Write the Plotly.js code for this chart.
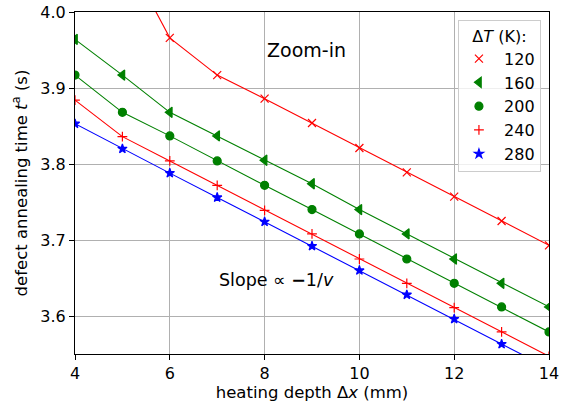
<!DOCTYPE html>
<html>
<head>
<meta charset="utf-8">
<script src="https://cdn.plot.ly/plotly-3.0.1.min.js"></script>
<style>html,body{margin:0;padding:0;background:#fff;}#chart{width:567px;height:406px;}</style>
</head>
<body>
<div id="chart"></div>
<script>
const depth = [4, 5, 6, 7, 8, 9, 10, 11, 12, 13, 14];
const deltaT = ["120", "160", "200", "240", "280"];
const t120 = [4.30, 4.083, 3.966, 3.917, 3.886, 3.854, 3.821, 3.789, 3.757, 3.725, 3.693];
const t160 = [3.964, 3.917, 3.868, 3.837, 3.805, 3.774, 3.740, 3.708, 3.675, 3.643, 3.612];
const t200 = [3.917, 3.868, 3.837, 3.804, 3.772, 3.740, 3.708, 3.675, 3.643, 3.612, 3.579];
const t240 = [3.884, 3.836, 3.804, 3.772, 3.739, 3.708, 3.675, 3.643, 3.611, 3.579, 3.547];
const t280 = [3.853, 3.820, 3.788, 3.756, 3.724, 3.692, 3.660, 3.628, 3.596, 3.563, 3.531];

const series = [t120, t160, t200, t240, t280];
const colors = ["#ff0000", "#008000", "#008000", "#ff0000", "#0000ff"];
const symbols = ["x-thin-open", "triangle-left", "circle", "cross-thin-open", "star"];
const sizes = [8, 9, 8, 7, 7];

const traces = [];
series.forEach((ys, i) => {
  traces.push({
    x: depth, y: ys, type: "scatter", mode: "lines",
    line: {color: colors[i], width: 1.1}, showlegend: false, hoverinfo: "skip"
  });
});
series.forEach((ys, i) => {
  traces.push({
    x: depth, y: ys, type: "scatter", mode: "markers",
    name: "\u00a0" + deltaT[i],
    marker: {color: colors[i], symbol: symbols[i], size: sizes[i],
             line: {color: colors[i], width: 1.2}}
  });
});

const layout = {
  width: 567, height: 406,
  margin: {l: 75, r: 18, t: 12, b: 52},
  paper_bgcolor: "#ffffff", plot_bgcolor: "#ffffff",
  font: {family: "DejaVu Sans, sans-serif", size: 16, color: "#000"},
  xaxis: {
    range: [4, 14], dtick: 2, tick0: 4,
    showgrid: true, gridcolor: "#b0b0b0", gridwidth: 1,
    zeroline: false, showline: true, linecolor: "#000", linewidth: 1, mirror: true,
    ticks: "outside", ticklen: 5, tickcolor: "#000",
    tickfont: {size: 16},
    title: {text: "heating depth Δ<i>x</i> (mm)", font: {size: 16.5}, standoff: 4}
  },
  yaxis: {
    range: [3.55, 4.0], dtick: 0.1, tick0: 3.6, tickformat: ".1f",
    showgrid: true, gridcolor: "#b0b0b0", gridwidth: 1,
    zeroline: false, showline: true, linecolor: "#000", linewidth: 1, mirror: true,
    ticks: "outside", ticklen: 5, tickcolor: "#000",
    tickfont: {size: 16},
    title: {text: "defect annealing time <i>t</i><sup>a</sup> (s)", font: {size: 16.5}, standoff: 8}
  },
  legend: {
    x: 0.983, y: 0.977, xanchor: "right", yanchor: "top",
    bgcolor: "rgba(255,255,255,0.8)", bordercolor: "#cccccc", borderwidth: 1,
    font: {size: 16},
    title: {text: "Δ<i>T</i> (K):", font: {size: 16}, side: "top center"},
    tracegroupgap: 0
  },
  annotations: [
    {x: 8.88, y: 3.95, xref: "x", yref: "y", text: "Zoom-in", showarrow: false,
     font: {size: 19}},
    {x: 8.26, y: 3.647, xref: "x", yref: "y", text: "Slope \u221d <b>\u2212</b>1/<i>v</i>", showarrow: false,
     font: {size: 17.5}}
  ]
};

Plotly.newPlot("chart", traces, layout, {displayModeBar: false, staticPlot: true});
</script>
</body>
</html>
